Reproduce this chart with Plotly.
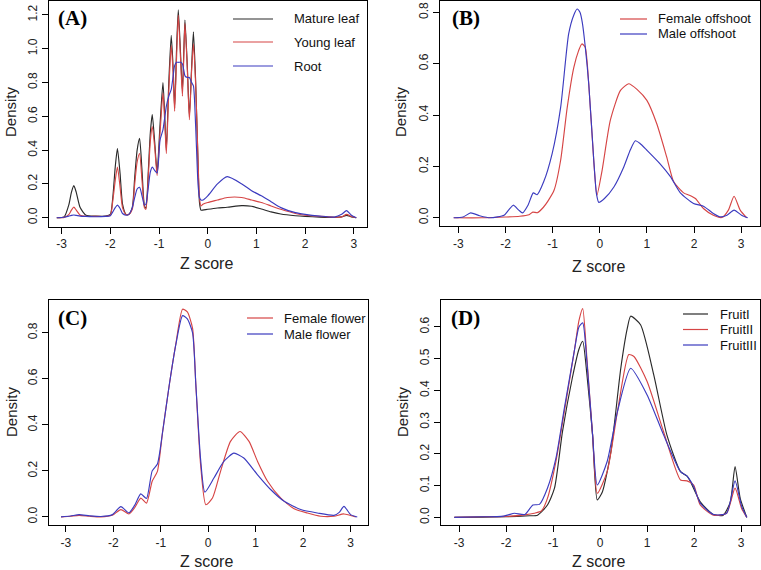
import plotly.graph_objects as go

# ---------------- data ----------------
# Panel A
a_x = [-3.1, -2.95, -2.85, -2.8, -2.75, -2.7, -2.62, -2.5, -2.3, -2.1, -2.0, -1.95, -1.9, -1.855, -1.8,
       -1.75, -1.68, -1.62, -1.55, -1.5, -1.45, -1.40, -1.35, -1.3, -1.27, -1.22, -1.18, -1.14, -1.09,
       -1.04, -0.98, -0.92, -0.88, -0.85, -0.80, -0.75, -0.71, -0.68, -0.64, -0.605, -0.56, -0.52, -0.49,
       -0.468, -0.42, -0.377, -0.33, -0.294, -0.25, -0.2, -0.17, -0.14, -0.1, 0.0, 0.2, 0.4, 0.7, 0.9,
       1.1, 1.3, 1.5, 1.8, 2.0, 2.3, 2.6, 2.75, 2.85, 2.95, 3.05]
a_mature = [0, 0.005, 0.08, 0.15, 0.19, 0.15, 0.06, 0.015, 0.01, 0.01, 0.02, 0.12, 0.3, 0.41, 0.26,
            0.08, 0.02, 0.02, 0.06, 0.24, 0.40, 0.47, 0.28, 0.07, 0.057, 0.28, 0.5, 0.61, 0.45,
            0.27, 0.55, 0.80, 0.58, 0.40, 0.80, 1.08, 0.88, 0.65, 1.0, 1.23, 0.98, 0.75, 1.0,
            1.17, 0.9, 0.60, 0.9, 1.10, 0.82, 0.33, 0.09, 0.045, 0.045, 0.05, 0.058, 0.062, 0.072, 0.068,
            0.052, 0.035, 0.022, 0.012, 0.008, 0.004, 0.002, 0.005, 0.014, 0.005, 0]
a_young = [0, 0.002, 0.02, 0.045, 0.063, 0.045, 0.015, 0.008, 0.008, 0.008, 0.015, 0.1, 0.22, 0.30, 0.18,
           0.06, 0.02, 0.02, 0.05, 0.2, 0.33, 0.38, 0.22, 0.06, 0.05, 0.25, 0.45, 0.54, 0.42,
           0.25, 0.5, 0.74, 0.55, 0.38, 0.75, 1.02, 0.85, 0.63, 0.95, 1.20, 0.95, 0.72, 0.98,
           1.15, 0.88, 0.58, 0.88, 1.03, 0.8, 0.35, 0.12, 0.07, 0.08, 0.09, 0.105, 0.12, 0.12, 0.105,
           0.09, 0.07, 0.05, 0.025, 0.015, 0.008, 0.003, 0.005, 0.02, 0.008, 0]
a_root = [0, 0.003, 0.01, 0.014, 0.016, 0.014, 0.01, 0.008, 0.006, 0.008, 0.012, 0.035, 0.06, 0.075, 0.055,
          0.025, 0.015, 0.02, 0.06, 0.12, 0.17, 0.18, 0.13, 0.075, 0.08, 0.18, 0.27, 0.30, 0.28,
          0.265, 0.46, 0.52, 0.60, 0.66, 0.72, 0.76, 0.84, 0.90, 0.92, 0.92, 0.92, 0.91, 0.87,
          0.84, 0.83, 0.83, 0.80, 0.78, 0.55, 0.2, 0.12, 0.105, 0.105, 0.13, 0.2, 0.243, 0.2, 0.16,
          0.13, 0.095, 0.06, 0.03, 0.02, 0.01, 0.004, 0.02, 0.042, 0.015, 0]

# Panel B
bf_x = [-3.1, -2.5, -2.0, -1.7, -1.5, -1.42, -1.32, -1.2, -1.1, -0.97, -0.83, -0.69, -0.55, -0.45, -0.38,
        -0.31, -0.233, -0.13, -0.06, 0.05, 0.225, 0.44, 0.614, 0.79, 1.0, 1.21, 1.42, 1.57, 1.78, 1.9,
        2.03, 2.2, 2.41, 2.59, 2.73, 2.85, 2.98, 3.12]
bf_y = [0, 0.0, 0.003, 0.006, 0.012, 0.022, 0.02, 0.04, 0.065, 0.107, 0.224, 0.43, 0.586, 0.65, 0.677,
        0.665, 0.52, 0.23, 0.088, 0.185, 0.38, 0.496, 0.522, 0.50, 0.457, 0.366, 0.237, 0.14, 0.097, 0.088,
        0.075, 0.036, 0.01, 0.001, 0.03, 0.084, 0.03, 0]
bm_x = [-3.1, -2.9, -2.74, -2.55, -2.32, -2.03, -1.935, -1.835, -1.72, -1.64, -1.52, -1.41, -1.33, -1.19,
        -1.01, -0.83, -0.66, -0.55, -0.48, -0.42, -0.37, -0.31, -0.233, -0.127, -0.07, -0.02, 0.1, 0.30,
        0.51, 0.65, 0.755, 0.85, 1.0, 1.28, 1.5, 1.71, 1.99, 2.2, 2.41, 2.55, 2.7, 2.85, 3.01, 3.14]
bm_y = [0, 0.003, 0.019, 0.008, 0.0, 0.01, 0.03, 0.049, 0.03, 0.019, 0.05, 0.097, 0.09, 0.14,
        0.25, 0.43, 0.716, 0.79, 0.813, 0.80, 0.76, 0.67, 0.52, 0.224, 0.094, 0.06, 0.075, 0.12,
        0.198, 0.265, 0.30, 0.29, 0.263, 0.21, 0.16, 0.097, 0.056, 0.045, 0.017, 0.004, 0.01, 0.03, 0.01, 0]

# Panel C
cf_x = [-3.1, -2.9, -2.72, -2.5, -2.26, -2.02, -1.84, -1.67, -1.55, -1.42, -1.30, -1.18, -1.07, -0.96,
        -0.82, -0.68, -0.54, -0.44, -0.33, -0.26, -0.16, -0.05, 0.09, 0.26, 0.47, 0.67, 0.86, 1.04, 1.25,
        1.53, 1.81, 2.09, 2.37, 2.65, 2.86, 3.11]
cf_y = [0, 0.003, 0.007, 0.003, 0.0, 0.007, 0.032, 0.013, 0.04, 0.082, 0.06, 0.155, 0.198, 0.37,
        0.573, 0.754, 0.902, 0.89, 0.82, 0.573, 0.227, 0.053, 0.082, 0.198, 0.328, 0.371, 0.328, 0.241, 0.155,
        0.082, 0.036, 0.017, 0.003, 0.003, 0.013, 0]
cm_x = [-3.1, -2.9, -2.72, -2.5, -2.26, -2.02, -1.84, -1.67, -1.55, -1.42, -1.30, -1.18, -1.07, -0.96,
        -0.82, -0.68, -0.54, -0.44, -0.33, -0.26, -0.16, -0.07, 0.12, 0.33, 0.54, 0.75, 1.04, 1.32, 1.6,
        1.95, 2.3, 2.65, 2.76, 2.86, 3.0, 3.14]
cm_y = [0, 0.004, 0.01, 0.005, 0.002, 0.01, 0.045, 0.018, 0.05, 0.10, 0.08, 0.20, 0.23, 0.37,
        0.573, 0.75, 0.874, 0.86, 0.80, 0.573, 0.25, 0.108, 0.169, 0.241, 0.277, 0.256, 0.183, 0.118, 0.068,
        0.032, 0.017, 0.007, 0.02, 0.046, 0.01, 0]

# Panel D
d1_x = [-3.1, -2.5, -2.0, -1.5, -1.33, -1.12, -0.97, -0.80, -0.59, -0.45, -0.37, -0.28, -0.16, -0.06, 0.05,
        0.23, 0.44, 0.58, 0.65, 0.86, 1.14, 1.42, 1.71, 1.85, 1.92, 2.13, 2.41, 2.62, 2.77, 2.87, 2.98, 3.12]
d1_y = [0, 0.001, 0.002, 0.005, 0.007, 0.039, 0.092, 0.27, 0.44, 0.53, 0.555, 0.45, 0.26, 0.055, 0.081,
        0.207, 0.47, 0.597, 0.634, 0.607, 0.45, 0.26, 0.144, 0.13, 0.113, 0.049, 0.009, 0.007, 0.049, 0.16, 0.06, 0]
d2_x = [-3.1, -2.5, -2.0, -1.6, -1.4, -1.25, -1.12, -0.94, -0.76, -0.55, -0.45, -0.37, -0.28, -0.16, -0.06,
        0.15, 0.37, 0.61, 0.72, 1.0, 1.35, 1.71, 1.85, 1.99, 2.13, 2.41, 2.69, 2.87, 3.01, 3.12]
d2_y = [0, 0.002, 0.003, 0.008, 0.013, 0.02, 0.06, 0.176, 0.334, 0.523, 0.62, 0.658, 0.5, 0.26, 0.076,
        0.144, 0.334, 0.513, 0.507, 0.428, 0.27, 0.118, 0.115, 0.102, 0.039, 0.007, 0.013, 0.092, 0.028, 0]
d3_x = [-3.1, -2.5, -2.1, -1.95, -1.82, -1.6, -1.43, -1.29, -1.12, -0.94, -0.76, -0.55, -0.45, -0.37, -0.28,
        -0.16, -0.06, 0.15, 0.37, 0.65, 1.0, 1.35, 1.71, 1.85, 1.99, 2.13, 2.41, 2.69, 2.87, 3.01, 3.12]
d3_y = [0, 0.002, 0.003, 0.008, 0.013, 0.009, 0.039, 0.041, 0.092, 0.186, 0.344, 0.523, 0.60, 0.613, 0.49,
        0.26, 0.102, 0.176, 0.334, 0.47, 0.386, 0.26, 0.144, 0.13, 0.097, 0.045, 0.009, 0.013, 0.115, 0.035, 0]

x_ticks = [-3, -2, -1, 0, 1, 2, 3]
x_tick_text = ["-3", "-2", "-1", "0", "1", "2", "3"]
ya_ticks = [0, 0.2, 0.4, 0.6, 0.8, 1.0, 1.2]
yb_ticks = [0, 0.2, 0.4, 0.6, 0.8]
yc_ticks = [0, 0.2, 0.4, 0.6, 0.8]
yd_ticks = [0, 0.1, 0.2, 0.3, 0.4, 0.5, 0.6]

panel_labels = ["(A)", "(B)", "(C)", "(D)"]
legend_a = ["Mature leaf", "Young leaf", "Root"]
legend_b = ["Female offshoot", "Male offshoot"]
legend_c = ["Female flower", "Male flower"]
legend_d = ["FruitI", "FruitII", "FruitIII"]

# ---------------- style ----------------
W, H = 761, 570
BLACK = "#2a2a2a"
RED = "#d64545"
BLUE = "#3b3bbf"
SANS = "Liberation Sans, Arial, sans-serif"
SERIF = "Liberation Serif, Times New Roman, serif"


def px(x):
    return x / W


def py(y):
    return 1 - y / H


fig = go.Figure()

panels = [
    # (axis id, series list, domain x px, domain y px, xrange, yrange, yticks)
    ("", [(a_x, a_mature, BLACK), (a_x, a_young, RED), (a_x, a_root, BLUE)],
     (49, 366.5), (0.8, 226.7), (-3.26, 3.26), (-0.053, 1.284), ya_ticks),
    ("2", [(bf_x, bf_y, RED), (bm_x, bm_y, BLUE)],
     (440, 759.5), (0.8, 226), (-3.39, 3.39), (-0.032, 0.845), yb_ticks),
    ("3", [(cf_x, cf_y, RED), (cm_x, cm_y, BLUE)],
     (48.7, 367.7), (300, 525), (-3.36, 3.36), (-0.035, 0.942), yc_ticks),
    ("4", [(d1_x, d1_y, BLACK), (d2_x, d2_y, RED), (d3_x, d3_y, BLUE)],
     (440.7, 759.5), (300, 525), (-3.39, 3.39), (-0.024, 0.685), yd_ticks),
]

axis_common = dict(showline=True, linecolor="black", linewidth=1.4, mirror=True,
                   ticks="outside", ticklen=6, tickwidth=1, tickcolor="black",
                   showgrid=False, zeroline=False, automargin=False,
                   tickfont=dict(family=SANS, size=12, color="#222"))

layout_axes = {}
for aid, series, dx, dy, xr, yr, yt in panels:
    for xs, ys, col in series:
        fig.add_trace(go.Scatter(x=xs, y=ys, mode="lines",
                                 line=dict(color=col, width=1.15, shape="spline", smoothing=0.6),
                                 xaxis="x" + aid, yaxis="y" + aid, showlegend=False,
                                 hoverinfo="skip"))
    layout_axes["xaxis" + aid] = dict(axis_common, domain=[px(dx[0]), px(dx[1])], range=list(xr),
                                      tickvals=x_ticks, ticktext=x_tick_text,
                                      anchor="y" + aid)
    layout_axes["yaxis" + aid] = dict(axis_common, domain=[py(dy[1]), py(dy[0])], range=list(yr),
                                      tickvals=yt, ticktext=["%.1f" % v for v in yt],
                                      tickangle=-90, anchor="x" + aid)

fig.update_layout(**layout_axes)

annotations = []
shapes = []


def note(text, cx, cy, size, family, xanchor="center", angle=0, color="#222"):
    annotations.append(dict(x=px(cx), y=py(cy), xref="paper", yref="paper", text=text,
                            xanchor=xanchor, yanchor="middle", textangle=angle,
                            showarrow=False, font=dict(family=family, size=size, color=color)))


# axis titles
for (cx, cy) in [(11, 112), (401, 112), (11, 412), (402, 412)]:
    note("Density", cx, cy, 15, SANS, angle=-90)
for (cx, cy) in [(207, 263), (598, 266), (207, 561), (598, 561)]:
    note("Z score", cx, cy, 16, SANS)

# panel labels
for lab, (cx, cy) in zip(panel_labels, [(72, 18), (466, 18), (72, 318), (466, 318)]):
    note("<b>%s</b>" % lab, cx, cy, 21, SERIF, color="black")

# legends
legend_specs = [
    (legend_a, [BLACK, RED, BLUE], (233, 273), 292, [19, 42, 66]),
    (legend_b, [RED, BLUE], (620, 647), 656, [19, 34]),
    (legend_c, [RED, BLUE], (247, 273), 282, [318, 334]),
    (legend_d, [BLACK, RED, BLUE], (683, 708), 718, [314, 329.5, 345]),
]
for names, cols, (lx0, lx1), tx, rows in legend_specs:
    for name, col, ry in zip(names, cols, rows):
        shapes.append(dict(type="line", xref="paper", yref="paper",
                           x0=px(lx0), x1=px(lx1), y0=py(ry), y1=py(ry),
                           line=dict(color=col, width=1.2)))
        note(name, tx, ry, 13, SANS, xanchor="left", color="#111")

fig.update_layout(width=W, height=H, autosize=False,
                  margin=dict(l=0, r=0, t=0, b=0, autoexpand=False),
                  paper_bgcolor="white", plot_bgcolor="white",
                  annotations=annotations, shapes=shapes, showlegend=False)

fig.write_html("out.html",
               config={"displayModeBar": False},
               post_script="document.body.style.margin='0';document.body.style.padding='0';"
                           "document.body.style.overflow='hidden';")
